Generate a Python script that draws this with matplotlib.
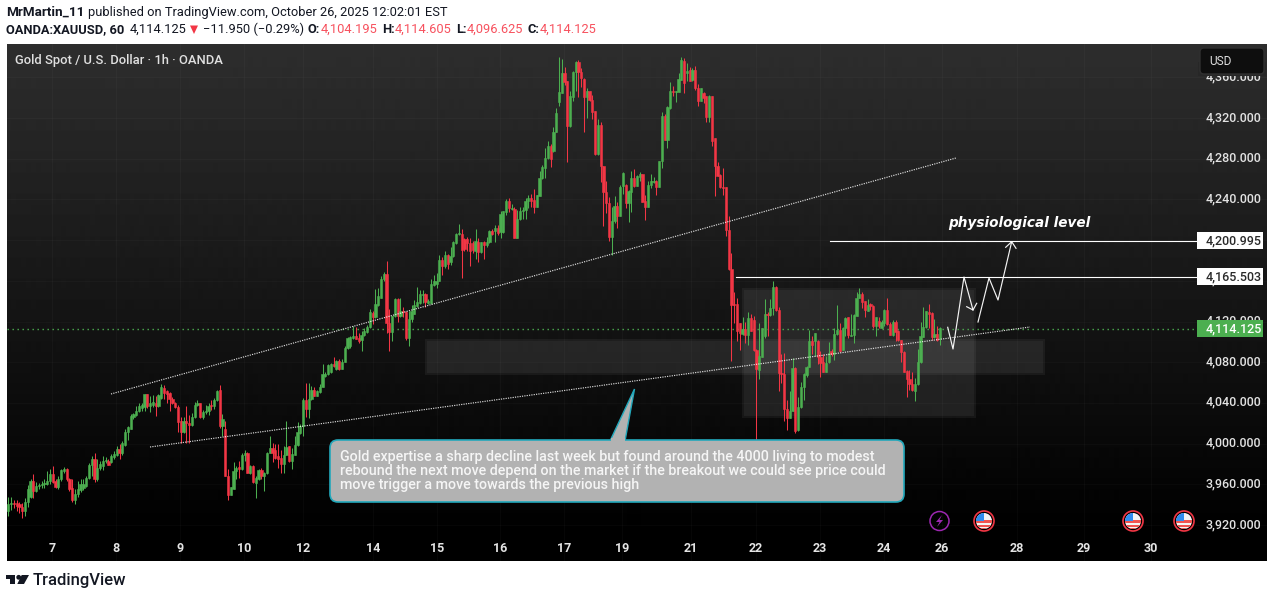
import numpy as np
import matplotlib
matplotlib.use("Agg")
import matplotlib.pyplot as plt
from matplotlib.patches import Rectangle, FancyBboxPatch, Circle, Polygon
from matplotlib.lines import Line2D

plt.rcParams['font.family'] = ['Roboto', 'DejaVu Sans']

opens = [
3934,3941,3942,3942,3941,3938,3934,3943,3948,3963,
3953,3958,3959,3960,3960,3963,3970,3963,3957,3965,
3973,3975,3965,3956,3945,3950,3954,3956,3958,3966,
3979,3985,3965,3976,3978,3983,3983,3982,3987,3989,3995,
3991,3999,4011,4014,4026,4028,4032,4035,4036,4049,
4037,4038,4040,4037,4045,4055,4052,4050,4044,4040,4036,
4022,4011,4022,4020,4018,4026,4038,4040,4026,4031,
4032,4038,4037,4043,4053,4017,4014,3968,3949,3955,
3973,3977,3975,3989,3991,3971,3978,3961,3965,3974,
3968,3971,3991,3996,3994,3988,3986,3980,3989,3998,
3983,3989,3999,4010,4017,4043,4034,4044,4053,4047,
4051,4056,4066,4068,4070,4078,4073,4081,4073,4080,
4094,4096,4104,4106,4104,4102,4107,4110,4115,4128,
4124,4136,4143,4162,4167,4119,4110,4125,4142,4125,
4130,4129,4104,4122,4127,4135,4138,4146,4147,4138,
4138,4156,4157,4160,4180,4175,4185,4178,4184,4197,
4206,4206,4201,4201,4197,4197,4189,4198,4188,4198,
4195,4198,4209,4209,4212,4208,4208,4228,4238,4231,
4231,4202,4221,4229,4230,4238,4241,4239,4233,4243,
4261,4271,4281,4292,4288,4306,4336,4345,4364,4356,
4312,4341,4365,4375,4365,4358,4341,4347,4338,4327,
4285,4313,4273,4247,4236,4203,4219,4234,4224,4253,
4254,4236,4247,4261,4253,4262,4265,4238,4233,4254,
4257,4258,4252,4278,4322,4298,4330,4347,4346,4346,
4357,4376,4364,4367,4357,4367,4349,4337,4345,4342,
4321,4342,4300,4273,4264,4252,4252,4210,4172,4137,
4137,4119,4108,4113,4107,4123,4121,4092,4072,4085,
4106,4127,4126,4133,4154,4131,4069,4068,4034,4025,
4032,4074,4013,4036,4056,4067,4075,4101,4101,4101,
4085,4080,4070,4080,4091,4088,4108,4112,4092,4114,
4124,4106,4107,4125,4143,4147,4140,4130,4137,4135,
4116,4120,4114,4119,4131,4118,4107,4120,4111,4102,
4090,4071,4063,4059,4052,4059,4080,4105,4115,4129,
4128,4105,4108,4104]

highs = [
3948,3948,3945,3945,3943,3942,3947,3959,3965,3970,
3962,3961,3963,3965,3973,3975,3978,3965,3968,3975,
3977,3976,3966,3965,3955,3963,3965,3965,3968,3981,
3988,3991,3985,3983,3988,3987,3985,3990,3993,3998,4000,
4003,4014,4017,4029,4030,4037,4040,4040,4049,4049,
4047,4048,4047,4049,4059,4058,4053,4051,4046,4041,4038,
4026,4026,4037,4028,4030,4041,4043,4040,4033,4038,
4040,4043,4045,4053,4058,4029,4022,3975,3957,3982,
3978,3983,3991,3994,3992,3979,3979,3968,3975,3976,
3972,3992,4007,4001,4000,4000,3994,3998,4022,3998,
3996,4007,4021,4019,4045,4060,4060,4057,4056,4053,
4059,4078,4070,4078,4079,4085,4082,4083,4083,4096,
4105,4106,4116,4115,4109,4111,4114,4117,4132,4130,
4152,4153,4165,4169,4179,4132,4125,4143,4143,4143,
4134,4130,4130,4136,4141,4154,4151,4151,4148,4142,
4162,4166,4168,4185,4183,4189,4186,4193,4199,4207,
4216,4211,4202,4203,4202,4199,4211,4202,4198,4199,
4203,4210,4211,4215,4215,4229,4229,4240,4241,4235,
4233,4230,4233,4233,4241,4244,4245,4250,4244,4268,
4274,4291,4297,4294,4311,4330,4380,4378,4370,4356,
4347,4366,4376,4377,4369,4359,4349,4347,4343,4327,
4319,4316,4273,4258,4242,4233,4243,4237,4254,4267,
4255,4249,4268,4270,4264,4267,4265,4244,4258,4265,
4262,4259,4278,4326,4324,4332,4355,4351,4347,4364,
4380,4379,4374,4370,4369,4371,4353,4349,4346,4342,
4343,4342,4300,4277,4265,4271,4252,4224,4187,4149,
4143,4119,4124,4120,4129,4127,4125,4093,4119,4114,
4142,4129,4142,4160,4155,4134,4088,4089,4043,4052,
4084,4075,4046,4061,4069,4076,4112,4106,4109,4102,
4091,4088,4086,4100,4093,4114,4136,4119,4115,4124,
4124,4127,4127,4149,4153,4149,4140,4142,4138,4136,
4124,4124,4121,4132,4143,4120,4121,4121,4112,4102,
4091,4072,4072,4070,4064,4093,4120,4134,4130,4137,
4129,4122,4116,4115]

lows = [
3929,3935,3937,3934,3932,3927,3929,3938,3947,3947,
3952,3955,3956,3956,3959,3960,3961,3956,3955,3963,
3971,3963,3953,3943,3941,3948,3952,3954,3957,3965,
3968,3962,3963,3974,3974,3981,3979,3981,3985,3988,3985,
3989,3998,4004,4014,4024,4027,4031,4032,4032,4035,
4031,4036,4027,4036,4044,4044,4040,4032,4039,4035,4011,
4001,4010,4001,4001,4017,4025,4037,4025,4024,4029,
4028,4033,4034,4042,4015,4007,3968,3945,3949,3955,
3965,3966,3974,3983,3971,3970,3961,3947,3964,3965,
3953,3970,3991,3982,3985,3976,3971,3971,3989,3982,
3975,3989,3998,4009,4007,4026,4025,4043,4047,4047,
4050,4056,4065,4067,4069,4075,4072,4072,4073,4080,
4093,4094,4103,4103,4099,4091,4106,4109,4114,4118,
4123,4135,4143,4160,4109,4091,4101,4124,4120,4124,
4124,4102,4096,4120,4127,4134,4137,4138,4134,4137,
4137,4155,4153,4160,4166,4173,4172,4176,4183,4196,
4205,4163,4189,4189,4175,4187,4181,4178,4187,4181,
4193,4197,4205,4198,4205,4202,4207,4225,4228,4230,
4202,4202,4220,4221,4221,4232,4233,4227,4233,4243,
4260,4261,4280,4272,4287,4306,4332,4345,4352,4277,
4311,4337,4347,4341,4350,4306,4320,4337,4319,4284,
4284,4257,4214,4227,4199,4185,4217,4212,4224,4245,
4232,4218,4228,4252,4253,4258,4237,4220,4233,4251,
4256,4244,4252,4271,4298,4291,4329,4342,4336,4346,
4357,4345,4356,4356,4356,4348,4332,4337,4335,4316,
4316,4292,4243,4263,4251,4244,4204,4171,4081,4119,
4101,4092,4107,4099,4097,4111,4091,4003,4063,4085,
4104,4106,4125,4126,4130,4052,4060,4022,4013,4025,
4032,4010,4012,4035,4043,4065,4075,4088,4086,4078,
4065,4070,4070,4079,4086,4082,4107,4090,4092,4106,
4104,4106,4099,4125,4143,4133,4124,4130,4131,4114,
4106,4114,4114,4116,4117,4107,4106,4101,4101,4080,
4070,4046,4053,4052,4042,4058,4079,4105,4114,4114,
4102,4104,4101,4097]

closes = [
3941,3942,3941,3939,3938,3934,3943,3955,3963,3953,
3958,3959,3960,3961,3963,3970,3962,3957,3965,3974,
3975,3965,3955,3945,3950,3955,3960,3960,3966,3979,
3985,3965,3976,3980,3983,3984,3979,3988,3990,3995,3991,
4001,4011,4016,4027,4029,4032,4037,4038,4049,4037,
4040,4041,4037,4048,4056,4050,4049,4044,4040,4036,4021,
4011,4022,4020,4018,4026,4038,4040,4026,4031,4032,
4037,4037,4043,4052,4017,4024,3968,3949,3957,3973,
3976,3975,3989,3991,3971,3978,3962,3966,3974,3968,
3971,3991,3996,3991,3986,3985,3980,3989,3997,3983,
3990,3999,4011,4017,4043,4034,4044,4053,4047,4052,
4056,4068,4068,4077,4078,4076,4081,4073,4080,4094,
4104,4105,4106,4103,4101,4107,4111,4115,4129,4124,
4137,4145,4162,4167,4119,4110,4125,4142,4125,4130,
4129,4104,4122,4130,4136,4139,4147,4147,4139,4140,
4157,4160,4160,4180,4175,4185,4177,4184,4198,4206,
4207,4190,4191,4197,4189,4190,4199,4188,4198,4195,
4198,4209,4206,4212,4207,4226,4229,4238,4232,4232,
4202,4221,4229,4230,4238,4241,4238,4233,4244,4261,
4272,4281,4292,4280,4306,4325,4346,4364,4355,4312,
4342,4365,4375,4365,4359,4341,4347,4338,4326,4285,
4313,4273,4247,4236,4203,4219,4234,4224,4252,4266,
4236,4248,4261,4253,4263,4265,4237,4233,4254,4258,
4258,4252,4278,4322,4298,4331,4347,4346,4347,4358,
4377,4354,4366,4356,4367,4349,4337,4349,4340,4321,
4342,4297,4273,4263,4252,4251,4210,4172,4136,4136,
4111,4109,4113,4107,4123,4111,4092,4073,4086,4114,
4127,4126,4133,4154,4131,4069,4068,4034,4025,4032,
4074,4012,4036,4056,4068,4075,4101,4097,4109,4085,
4079,4070,4079,4089,4088,4108,4112,4091,4114,4123,
4107,4107,4126,4143,4147,4139,4131,4136,4135,4116,
4124,4116,4120,4131,4118,4107,4120,4110,4102,4090,
4070,4063,4059,4053,4059,4080,4106,4115,4130,4127,
4105,4108,4102,4114]

y_tick_values = [4360, 4320, 4280, 4240, 4200, 4160, 4120, 4080, 4040, 4000, 3960, 3920]
y_tick_labels = ["4,360.000", "4,320.000", "4,280.000", "4,240.000", "4,200.000", "4,160.000",
                 "4,120.000", "4,080.000", "4,040.000", "4,000.000", "3,960.000", "3,920.000"]
day_labels = ["7", "8", "9", "10", "12", "14", "15", "16", "17", "19", "21", "22", "23", "24", "26", "28", "29", "30"]
day_label_px = [52, 116, 180, 244, 303, 373, 437, 500, 564, 622, 691, 756, 820, 884, 942, 1017, 1084, 1151]
note_lines = ["Gold expertise a sharp decline last week but found around the 4000 living to modest",
              "rebound the next move depend on the market if the breakout we could see price could",
              "move trigger a move towards the previous high"]

W, H = 1275, 599
GREEN, RED = "#4caf50", "#f23645"
fig = plt.figure(figsize=(W / 100, H / 100), dpi=100, facecolor="white")

# main price pane; bars spaced about 2.8 px, prices about 1.0175 px per dollar
PL, PR, PT, PB = 7, 1267, 44, 561
ax = fig.add_axes([PL / W, 1 - PB / H, (PR - PL) / W, (PB - PT) / H])
ov = fig.add_axes([0, 0, 1, 1], zorder=5)
ov.set_xlim(0, W); ov.set_ylim(H, 0); ov.axis("off"); ov.patch.set_alpha(0)
px = ov.transData

n = len(closes)
first_x, last_x = 8.3, 940.0
step = (last_x - first_x) / (n - 1)
ax.set_xlim((PL - first_x) / step, (PR - first_x) / step)
ylim = (4320 - (PB - 118) / 1.0175, 4320 + (118 - PT) / 1.0175)
ax.axis("off")

grad = np.interp(np.arange(PT, PB), [PT, 500, 540, PB], [46, 3, 0, 0]) / 255
ax.imshow(grad[:, None], cmap="gray", vmin=0, vmax=1, aspect="auto", zorder=0,
          extent=[*ax.get_xlim(), ylim[0], ylim[1]])
ax.set_ylim(*ylim)

for xp in day_label_px:
    ax.add_line(Line2D([xp, xp], [PT, PB], transform=px, color="white", alpha=0.028, lw=0.72, zorder=1))
for v in y_tick_values:
    ax.axhline(v, color="white", alpha=0.022, lw=0.72, zorder=1)

# shaded zones
for (x0, y0, x1, y1) in [(425, 339, 1045, 375), (742, 288, 976, 418)]:
    ax.add_patch(Rectangle((x0, y0), x1 - x0, y1 - y0, transform=px, fc="white", alpha=0.05, ec="none", zorder=2))
    ax.add_patch(Rectangle((x0 + 2, y0 + 2), x1 - x0 - 4, y1 - y0 - 4, transform=px, fc="white", alpha=0.045, ec="none", zorder=2))

# current price line
ax.add_line(Line2D([7, 1197], [328.5, 328.5], transform=px, color=GREEN, lw=1, ls=(0, (1, 2.6)), zorder=3))

# candles
idx = np.arange(n)
o, h, l, c = map(np.array, (opens, highs, lows, closes))
colors = [GREEN if cc >= oo else RED for oo, cc in zip(o, c)]
ax.vlines(idx, l, h, colors=colors, lw=0.75, zorder=3)
ax.bar(idx, np.abs(c - o), bottom=np.minimum(o, c), width=0.8, color=colors,
       edgecolor=colors, linewidth=0.4, zorder=4)

# trend lines
for xs, ys in [([111, 956], [394, 158]), ([150, 1030], [447, 327])]:
    ov.plot(xs, ys, color="white", lw=0.85, ls=(0, (1, 1)), alpha=0.85)
ov.plot([830, 1197], [240.5, 240.5], color="white", lw=0.8)
ov.plot([736, 1197], [276.5, 276.5], color="white", lw=0.8)

# drawn projected path
ov.plot([947.7, 953, 964, 973], [327.3, 349, 277, 310], color="white", lw=0.85, alpha=0.95)
ov.plot([966.7, 973, 976.7], [306.7, 310, 303.3], color="white", lw=0.85, alpha=0.95)
ov.plot([978, 989, 998, 1011.7], [322, 278, 300, 241.7], color="white", lw=0.85, alpha=0.95)
ov.plot([1005.7, 1011.7, 1016], [247.3, 241.7, 248.3], color="white", lw=0.85, alpha=0.95)
ov.text(948, 223, "physiological level", family="DejaVu Sans", weight="bold", style="italic",
        fontsize=9.8, color="white", va="center", ha="left")

# callout
ov.add_patch(Polygon([(610, 441), (634.5, 389), (625, 441)], closed=True, fc="#b2b2b2", ec="#22a8bb", lw=1))
ov.add_patch(FancyBboxPatch((336, 446), 562, 50, boxstyle="round,pad=6,rounding_size=8", fc="#b2b2b2", ec="#22a8bb", lw=1.2))
ov.add_patch(Rectangle((611, 438), 13.5, 5, fc="#b2b2b2", ec="none"))
for line, yp in zip(note_lines, [456.5, 470.5, 484.5]):
    ov.text(340, yp, line, fontsize=10.3, color="#f5f5f5", va="center", ha="left", weight="medium")

# price scale
for v, lab in zip(y_tick_values, y_tick_labels):
    yp = 118 + (4320 - v) * 1.0175 - 0.5
    ov.text(1206, yp, lab, fontsize=9, color="#e2e2e2", va="center", ha="left", weight="medium")
ov.add_patch(Rectangle((1198, 62), 68, 14, fc="#272727", ec="none", zorder=3))
ov.add_patch(FancyBboxPatch((1202, 50), 60, 22, boxstyle="round,pad=2,rounding_size=4", fc="#0e0e0e", ec="#303030", lw=1, zorder=4))
ov.text(1209, 61.5, "USD", fontsize=8.6, color="#dedede", va="center", ha="left", zorder=5)
for (y0, y1, fc, tc, txt) in [(232, 249, "white", "#2a2a2a", "4,200.995"),
                              (268, 285, "white", "#2a2a2a", "4,165.503"),
                              (320, 337, GREEN, "white", "4,114.125")]:
    ov.add_patch(Rectangle((1197, y0), 66, y1 - y0, fc=fc, ec="none", zorder=3))
    ov.text(1206, (y0 + y1) / 2, txt, fontsize=9, color=tc, va="center", ha="left", weight="medium", zorder=4)

# time scale
for lab, xp in zip(day_labels, day_label_px):
    ov.text(xp, 548, lab, fontsize=9, color="#e4e4e4", va="center", ha="center", weight="bold")

# events
ov.add_patch(Circle((939.5, 521), 9.5, fc="none", ec="#9c27b0", lw=1.1))
ov.add_patch(Polygon([(942, 515), (936, 522), (939.5, 522), (937, 527), (943, 520), (939.5, 520)], fc="#9c27b0", ec="none"))
for cx in [984, 1133, 1184]:
    ov.add_patch(Circle((cx, 521), 10, fc="none", ec="#f23645", lw=1.2))
    base = Circle((cx, 521), 8, fc="#f4f4f4", ec="none")
    ov.add_patch(base)
    for sy, sh in [(519.5, 3), (525, 2), (528, 1.5)]:
        r = Rectangle((cx - 8, sy), 16, sh, fc="#ef5350", ec="none")
        ov.add_patch(r); r.set_clip_path(base)
    r = Rectangle((cx - 8, 513), 8, 8, fc="#2f8cf0", ec="none")
    ov.add_patch(r); r.set_clip_path(base)

# header
def t(x, y, s, weight="normal", color="#131722", size=9.3):
    ov.text(x, y, s, fontsize=size, color=color, weight=weight, va="center", ha="left")
t(6, 12.5, "MrMartin_11", "bold", size=9.7)
t(88, 12.5, "published on TradingView.com, October 26, 2025 12:02:01 EST")
t(6, 29.5, "OANDA:XAUUSD, 60", "bold")
t(130, 29.5, "4,114.125")
ov.add_patch(Polygon([(190, 25.5), (198, 25.5), (194, 34)], fc="#f23645", ec="none"))
t(203, 29.5, "\u221211.950 (\u22120.29%)")
HR = "#f7525f"
for xl, lab, xv, val in [(307, "O:", 321, "4,104.195"), (382, "H:", 395, "4,114.605"),
                         (456, "L:", 467, "4,096.625"), (527, "C:", 540, "4,114.125")]:
    t(xl, 29.5, lab, "bold")
    t(xv, 29.5, val, color=HR)
ov.text(15, 60.5, "Gold Spot / U.S. Dollar \u00b7 1h \u00b7 OANDA", fontsize=9.4, color="#e0e0e0", va="center", ha="left", weight="medium", zorder=6)

# footer logo
ov.add_patch(Polygon([(6, 575), (15, 575), (15, 584), (10, 584), (10, 579), (6, 579)], fc="#131722", ec="none"))
ov.add_patch(Circle((18.7, 577.3), 2.4, fc="#131722", ec="none"))
ov.add_patch(Polygon([(21.7, 575), (29, 575), (24, 584), (17.3, 584)], fc="#131722", ec="none"))
ov.text(33, 580.5, "TradingView", fontsize=12, color="#131722", weight="medium", va="center", ha="left")

fig.savefig("out.png", dpi=100, facecolor="white")
